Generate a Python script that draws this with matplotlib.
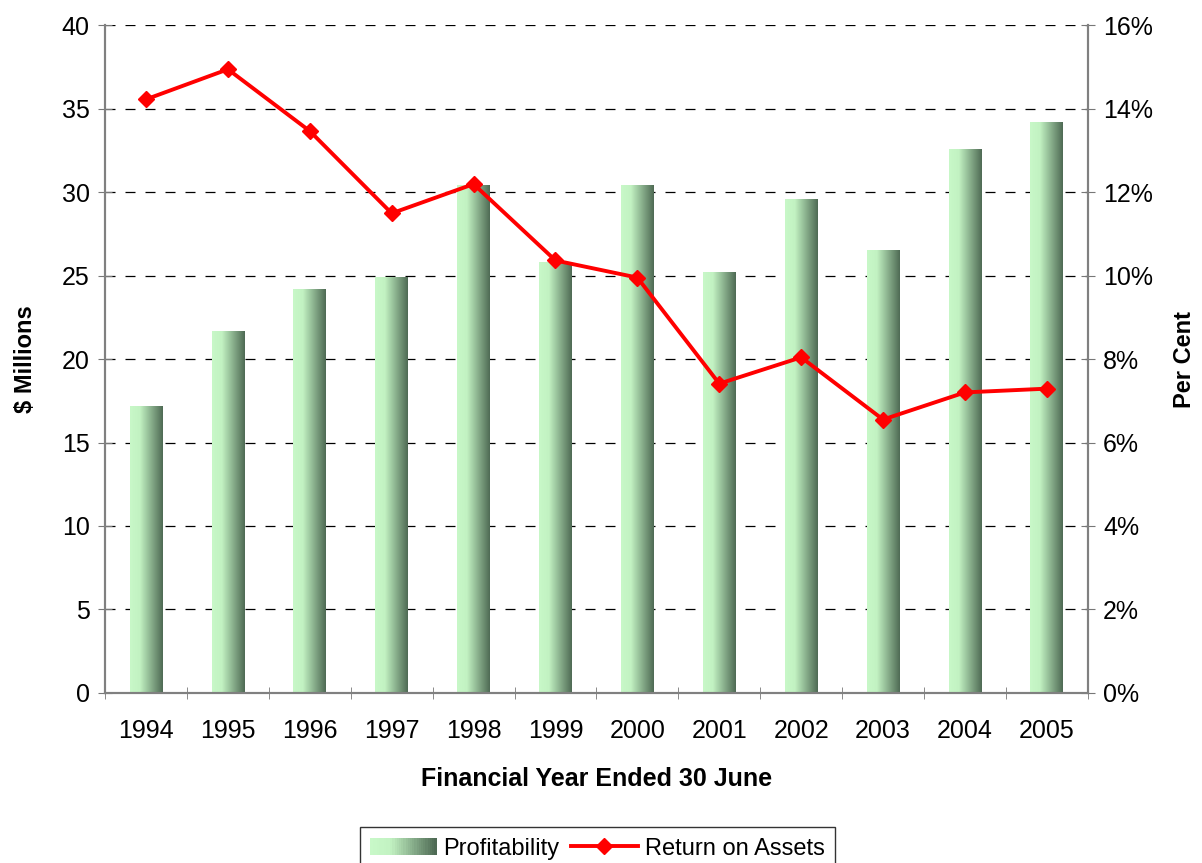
import matplotlib
matplotlib.use("Agg")
import matplotlib.pyplot as plt
import numpy as np
from matplotlib.colors import LinearSegmentedColormap
from matplotlib.patches import Rectangle
from matplotlib.lines import Line2D
from matplotlib.legend_handler import HandlerBase

plt.rcParams["font.family"] = ["Liberation Sans", "DejaVu Sans"]

years = ["1994", "1995", "1996", "1997", "1998", "1999",
         "2000", "2001", "2002", "2003", "2004", "2005"]
profit = [17.2, 21.7, 24.2, 24.9, 30.4, 25.8, 30.4, 25.2, 29.6, 26.5, 32.6, 34.2]
roa = [14.22, 14.94, 13.46, 11.49, 12.19, 10.36, 9.95, 7.41, 8.04, 6.55, 7.20, 7.29]

green = LinearSegmentedColormap.from_list(
    "bar", [(0.0, "#c8f8c8"), (0.3, "#c2f2c2"), (1.0, "#4e6a54")])
grad = np.linspace(0, 1, 256).reshape(1, -1)

fig = plt.figure(figsize=(12.02, 8.63), dpi=100)
ax = fig.add_axes([0.0874, 0.197, 0.8176, 0.774])
ax2 = ax.twinx()

x = np.arange(len(years))
bars = ax.bar(x, profit, width=0.4, color="none", edgecolor="none", zorder=2)
for b in bars:
    x0, y0 = b.get_x(), b.get_y()
    im = ax.imshow(grad, cmap=green, aspect="auto", zorder=2,
                   extent=(x0, x0 + b.get_width(), y0, y0 + b.get_height()))
    im.set_clip_path(b)

ax.set_xlim(-0.5, len(years) - 0.5)
ax.set_ylim(0, 40)
ax.set_yticks(np.arange(0, 41, 5))
ax.yaxis.grid(True, color="black", linestyle=(0, (8, 8)), linewidth=0.9)
ax.set_axisbelow(True)

ax.set_xticks(x)
ax.set_xticklabels(years)
ax.set_xticks(np.arange(-0.5, len(years), 1), minor=True)
ax.tick_params(axis="x", which="major", length=0, pad=19, labelsize=18)
ax.tick_params(axis="x", which="minor", length=8, direction="inout", color="#777777")
ax.tick_params(axis="y", length=10, direction="inout", color="#777777", labelsize=18, pad=6)

ax2.plot(x, roa, color="#ff0000", linewidth=2.8, marker="D", markersize=8, zorder=3)
ax2.set_ylim(0, 16)
ax2.set_yticks(np.arange(0, 17, 2))
ax2.set_yticklabels([f"{v}%" for v in range(0, 17, 2)])
ax2.tick_params(axis="y", length=10, direction="inout", color="#777777", labelsize=18, pad=6)

for a in (ax, ax2):
    for s in a.spines.values():
        s.set_color("#808080")
        s.set_linewidth(1.5)
    a.spines["top"].set_visible(False)

ax.set_xlabel("Financial Year Ended 30 June", fontsize=18, fontweight="bold", labelpad=17)
ax.set_ylabel("$ Millions", fontsize=17, fontweight="bold", labelpad=18)
ax2.set_ylabel("Per Cent", fontsize=17, fontweight="bold", labelpad=14)


class GradientHandler(HandlerBase):
    def create_artists(self, legend, orig_handle, xdescent, ydescent,
                       width, height, fontsize, trans):
        n = 30
        arts = []
        for i in range(n):
            r = Rectangle((xdescent + width * i / n, -ydescent), width / n + 0.3, height,
                          facecolor=green(i / (n - 1)), edgecolor="none", transform=trans)
            arts.append(r)
        return arts


bar_handle = Rectangle((0, 0), 1, 1)
line_handle = Line2D([], [], color="#ff0000", linewidth=2.8, marker="D", markersize=8)
leg = fig.legend([bar_handle, line_handle], ["Profitability", "Return on Assets"],
                 handler_map={Rectangle: GradientHandler()},
                 loc="lower center", bbox_to_anchor=(0.497, -0.022), ncol=2,
                 fontsize=17, frameon=True, fancybox=False, edgecolor="black",
                 handlelength=2.8, columnspacing=0.5, handletextpad=0.3,
                 borderpad=0.45)
leg.get_frame().set_linewidth(1.0)

fig.savefig("out.png", dpi=100)
